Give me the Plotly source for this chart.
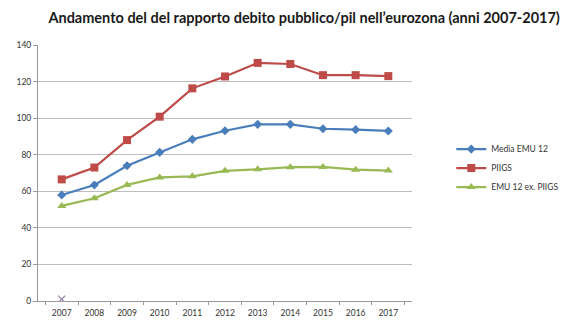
import plotly.graph_objects as go

years = ["2007", "2008", "2009", "2010", "2011", "2012", "2013", "2014", "2015", "2016", "2017"]
media_emu12 = [58.0, 63.4, 74.0, 81.3, 88.4, 93.1, 96.6, 96.6, 94.2, 93.7, 93.0]
piigs = [66.5, 73.0, 88.0, 100.8, 116.3, 122.8, 130.2, 129.6, 123.5, 123.5, 123.0]
emu12_ex_piigs = [52.0, 56.2, 63.5, 67.6, 68.2, 71.2, 72.0, 73.2, 73.3, 71.8, 71.3]
extra_year = ["2007"]
extra_val = [1.0]

fig = go.Figure()
fig.add_trace(go.Scatter(x=years, y=media_emu12, name="Media EMU 12", mode="lines+markers",
                         line=dict(color="#4A7EBB", width=2.2),
                         marker=dict(symbol="diamond", size=7, color="#4A7EBB")))
fig.add_trace(go.Scatter(x=years, y=piigs, name="PIIGS", mode="lines+markers",
                         line=dict(color="#BE4B48", width=2.2),
                         marker=dict(symbol="square", size=8, color="#BE4B48")))
fig.add_trace(go.Scatter(x=years, y=emu12_ex_piigs, name="EMU 12 ex. PIIGS", mode="lines+markers",
                         line=dict(color="#98B954", width=2.2),
                         marker=dict(symbol="triangle-up", size=8, color="#98B954")))
fig.add_trace(go.Scatter(x=extra_year, y=extra_val, mode="markers", showlegend=False,
                         marker=dict(symbol="x-thin", size=7, line=dict(color="#8E7CA8", width=1.2))))

fig.update_layout(
    width=576, height=322,
    margin=dict(l=38, r=144, t=45, b=21),
    paper_bgcolor="white", plot_bgcolor="white",
    font=dict(family="Lato, Open Sans, sans-serif", size=8, color="#333333"),
    title=dict(text="<b>Andamento del del rapporto debito pubblico/pil nell’eurozona (anni 2007-2017)</b>",
               x=0.528, xanchor="center", y=0.945, yanchor="middle",
               font=dict(size=14.5, color="#1a1a1a")),
    legend=dict(x=1.105, y=0.65, xanchor="left", yanchor="top",
                font=dict(size=8.5, color="#333333"), bgcolor="rgba(0,0,0,0)",
                itemwidth=30, tracegroupgap=4),
    showlegend=True,
)
fig.update_xaxes(type="category", showgrid=False, showline=True, linecolor="#9a9a9a",
                 ticks="outside", tickson="boundaries", ticklen=3, tickcolor="#9a9a9a",
                 tickfont=dict(size=8.5), automargin=False, ticklabelstandoff=4)
fig.update_yaxes(range=[0, 140], dtick=20, showgrid=True, gridcolor="#bdbdbd", gridwidth=1.2,
                 showline=True, linecolor="#9a9a9a", ticks="outside", ticklen=4,
                 tickcolor="#9a9a9a", tickfont=dict(size=8.5), zeroline=False, automargin=False)

fig.write_html("out.html")
